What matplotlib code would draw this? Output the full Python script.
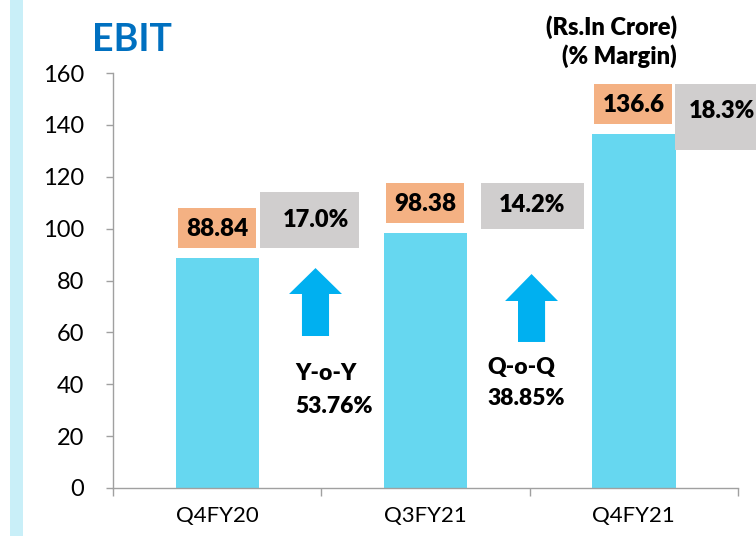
import matplotlib
matplotlib.use("Agg")
import matplotlib.pyplot as plt
from matplotlib.patches import Rectangle, Polygon

plt.rcParams['font.family'] = ['Lato', 'DejaVu Sans']

categories = ["Q4FY20", "Q3FY21", "Q4FY21"]
ebit = [88.84, 98.38, 136.6]
ebit_labels = ["88.84", "98.38", "136.6"]
margins = ["17.0%", "14.2%", "18.3%"]
growth_labels = [("Y-o-Y", "53.76%"), ("Q-o-Q", "38.85%")]
yticks = [0, 20, 40, 60, 80, 100, 120, 140, 160]

BW = "heavy"
W, H = 756, 536
fig = plt.figure(figsize=(W / 100, H / 100), dpi=100)
fig.patches.append(Rectangle((10 / W, 0), 13 / W, 1, transform=fig.transFigure,
                             facecolor="#C9EFF8", edgecolor="none", zorder=0))

ax = fig.add_axes([113 / W, 48 / H, (738 - 113) / W, (488 - 73) / H])
x = list(range(len(categories)))
ax.bar(x, ebit, width=0.4, color="#66D7F0", zorder=2)

ax.set_xlim(-0.5, 2.5)
ax.set_ylim(0, 160)
ax.set_yticks(yticks)
ax.set_yticklabels([str(t) for t in yticks], fontsize=17)
ax.tick_params(axis='y', direction='out', length=5, width=1, color="#A0A0A0", pad=16)
ax.set_xticks([-0.5, 0.5, 1.5, 2.5])
ax.set_xticklabels([])
ax.set_xticks(x, minor=True)
ax.set_xticklabels(categories, minor=True, fontsize=16)
ax.tick_params(axis='x', which='major', direction='out', length=6, width=1, color="#A0A0A0")
ax.tick_params(axis='x', which='minor', length=0, pad=13)
for s in ["top", "right"]:
    ax.spines[s].set_visible(False)
for s in ["left", "bottom"]:
    ax.spines[s].set_color("#A0A0A0")
    ax.spines[s].set_linewidth(1)

# orange value boxes
for i, v in enumerate(ebit):
    ax.add_patch(Rectangle((i - 0.19, v + 3.8), 0.375, 15.3, facecolor="#F4B183",
                           edgecolor="none", zorder=3, clip_on=False))
    ax.text(i, v + 3.8 + 7.4, ebit_labels[i], ha="center", va="center",
            fontsize=17.5, fontweight=BW, zorder=4)

# gray margin boxes (x0, x1, y0, y1)
gboxes = [(0.207, 0.681, 92.5, 114.1), (1.268, 1.761, 99.8, 117.6), (2.196, 2.70, 130.3, 155.7)]
for i, (x0, x1, y0, y1) in enumerate(gboxes):
    ax.add_patch(Rectangle((x0, y0), x1 - x0, y1 - y0, facecolor="#D0CECE",
                           edgecolor="none", zorder=3, clip_on=False))
tx = [0.473, 1.51, 2.425]
ty = [103.5, 109.0, 145.5]
for i in range(3):
    ax.text(tx[i], ty[i], margins[i], ha="center", va="center", fontsize=17,
            fontweight=BW, zorder=4, clip_on=False)

# up arrows
def up_arrow(xl, xr, xtip, sl, sr, ytip, yhead, ybot):
    pts = [(sl, ybot), (sr, ybot), (sr, yhead), (xr, yhead), (xtip, ytip),
           (xl, yhead), (sl, yhead)]
    ax.add_patch(Polygon(pts, closed=True, facecolor="#00B0F0", edgecolor="none", zorder=3))

up_arrow(0.345, 0.599, 0.472, 0.407, 0.537, 84.8, 74.8, 58.6)
up_arrow(1.382, 1.636, 1.509, 1.444, 1.574, 82.5, 72.1, 56.3)

ax.text(0.374, 44.0, growth_labels[0][0], ha="left", va="center", fontsize=16.5, fontweight=BW)
ax.text(0.374, 31.5, growth_labels[0][1], ha="left", va="center", fontsize=16.5, fontweight=BW)
ax.text(1.295, 46.5, growth_labels[1][0], ha="left", va="center", fontsize=16.5, fontweight=BW)
ax.text(1.295, 34.5, growth_labels[1][1], ha="left", va="center", fontsize=16.5, fontweight=BW)

fig.text(92 / W, 1 - 40 / H, "EBIT", ha="left", va="center", fontsize=27,
         fontweight="bold", color="#0070C0")
fig.text(677 / W, 1 - 27 / H, "(Rs.In Crore)", ha="right", va="center", fontsize=17,
         fontweight=BW)
fig.text(677 / W, 1 - 56 / H, "(% Margin)", ha="right", va="center", fontsize=17,
         fontweight=BW)

fig.savefig("out.png", dpi=100)
